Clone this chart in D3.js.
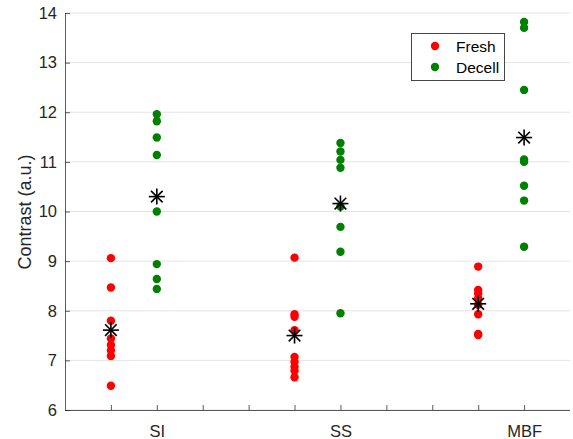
<!DOCTYPE html>
<html><head><meta charset="utf-8">
<script src="https://cdn.jsdelivr.net/npm/d3@7"></script>
<style>body{margin:0;background:#fff}svg{font-family:"Liberation Sans",Arial,sans-serif}</style>
</head><body><svg id="c" width="573" height="439"></svg>
<script>
const groups = ["SI", "SS", "MBF"];
const freshValues = [
  [9.06, 8.47, 7.80, 7.44, 7.31, 7.20, 7.09, 6.49],
  [9.07, 7.93, 7.88, 7.61, 7.07, 6.97, 6.87, 6.79, 6.66],
  [8.89, 8.42, 8.35, 8.25, 8.12, 7.93, 7.53, 7.51]
];
const decellValues = [
  [11.96, 11.82, 11.49, 11.14, 10.00, 8.94, 8.64, 8.44],
  [11.38, 11.21, 11.04, 10.88, 10.10, 9.69, 9.19, 7.95],
  [13.82, 13.70, 12.45, 11.05, 11.00, 10.52, 10.22, 9.29]
];
const freshMeans = [7.61, 7.50, 8.14];
const decellMeans = [10.30, 10.16, 11.49];
const freshX = [1, 5, 9];
const decellX = [2, 6, 10];
const xTicks = [1,2,3,4,5,6,7,8,9,10];
const xTickLabels = {2: "SI", 6: "SS", 10: "MBF"};
const yTicks = [6,7,8,9,10,11,12,13,14];
const seriesNames = ["Fresh", "Decell"];
const colors = ["#ff0000", "#008000"];

const svg = d3.select("#c");
const L = 65, R = 570, T = 13, B = 410;
const x = d3.scaleLinear().domain([0, 11]).range([L, R]);
const y = d3.scaleLinear().domain([6, 14]).range([B, T]);
const axisColor = "#262626";

// grid
svg.append("g").selectAll("line").data(yTicks).join("line")
  .attr("x1", L).attr("x2", R).attr("y1", d => y(d)).attr("y2", d => y(d))
  .attr("stroke", "#e3e3e3").attr("stroke-width", 1);

// axes
const yAxis = d3.axisLeft(y).tickValues(yTicks).tickSize(-5).tickPadding(8).tickFormat(d3.format("d"));
const gy = svg.append("g").attr("transform", `translate(${L},0)`).call(yAxis);
const xAxis = d3.axisBottom(x).tickValues(xTicks).tickSize(-5).tickPadding(15).tickFormat(d => xTickLabels[d] || "");
const gx = svg.append("g").attr("transform", `translate(0,${B})`).call(xAxis);
[gx, gy].forEach(g => {
  g.select(".domain").attr("stroke", axisColor).attr("stroke-opacity", 0.75);
  g.selectAll(".tick line").attr("stroke", axisColor).attr("stroke-opacity", 0.75);
  g.selectAll("text").attr("fill", axisColor).attr("font-size", 16.5).attr("font-family", "Liberation Sans, Arial, sans-serif");
});
gx.select(".domain").attr("d", `M${L},0.5H${R}`);
gy.select(".domain").attr("d", `M0.5,${B}V${T}`);

svg.append("text").attr("transform", `translate(31,${212}) rotate(-90)`)
  .attr("text-anchor", "middle").attr("font-size", 18).attr("fill", axisColor)
  .text("Contrast (a.u.)");

// points
function drawSeries(vals, xs, color) {
  vals.forEach((arr, i) => {
    svg.append("g").selectAll("circle").data(arr).join("circle")
      .attr("cx", x(xs[i])).attr("cy", d => y(d)).attr("r", 4.2).attr("fill", color);
  });
}
drawSeries(freshValues, freshX, colors[0]);
drawSeries(decellValues, decellX, colors[1]);

// means (asterisks)
function star(cx, cy) {
  const s = 8, d = 5.8;
  const g = svg.append("g").attr("stroke", "#000").attr("stroke-width", 1.6);
  g.append("line").attr("x1", cx - s).attr("x2", cx + s).attr("y1", cy).attr("y2", cy);
  g.append("line").attr("x1", cx).attr("x2", cx).attr("y1", cy - s).attr("y2", cy + s);
  g.append("line").attr("x1", cx - d).attr("x2", cx + d).attr("y1", cy - d).attr("y2", cy + d);
  g.append("line").attr("x1", cx - d).attr("x2", cx + d).attr("y1", cy + d).attr("y2", cy - d);
}
freshMeans.forEach((m, i) => star(x(freshX[i]), y(m)));
decellMeans.forEach((m, i) => star(x(decellX[i]), y(m)));

// legend
const lg = svg.append("g");
lg.append("rect").attr("x", 411.5).attr("y", 33.5).attr("width", 93).attr("height", 47)
  .attr("fill", "#fff").attr("stroke", axisColor).attr("stroke-opacity", 0.85);
seriesNames.forEach((n, i) => {
  const cy = 46 + i * 21;
  lg.append("circle").attr("cx", 435).attr("cy", cy).attr("r", 4.2).attr("fill", colors[i]);
  lg.append("text").attr("x", 456).attr("y", cy + 5.5).attr("font-size", 15.5).attr("fill", "#000").text(n);
});
</script></body></html>
